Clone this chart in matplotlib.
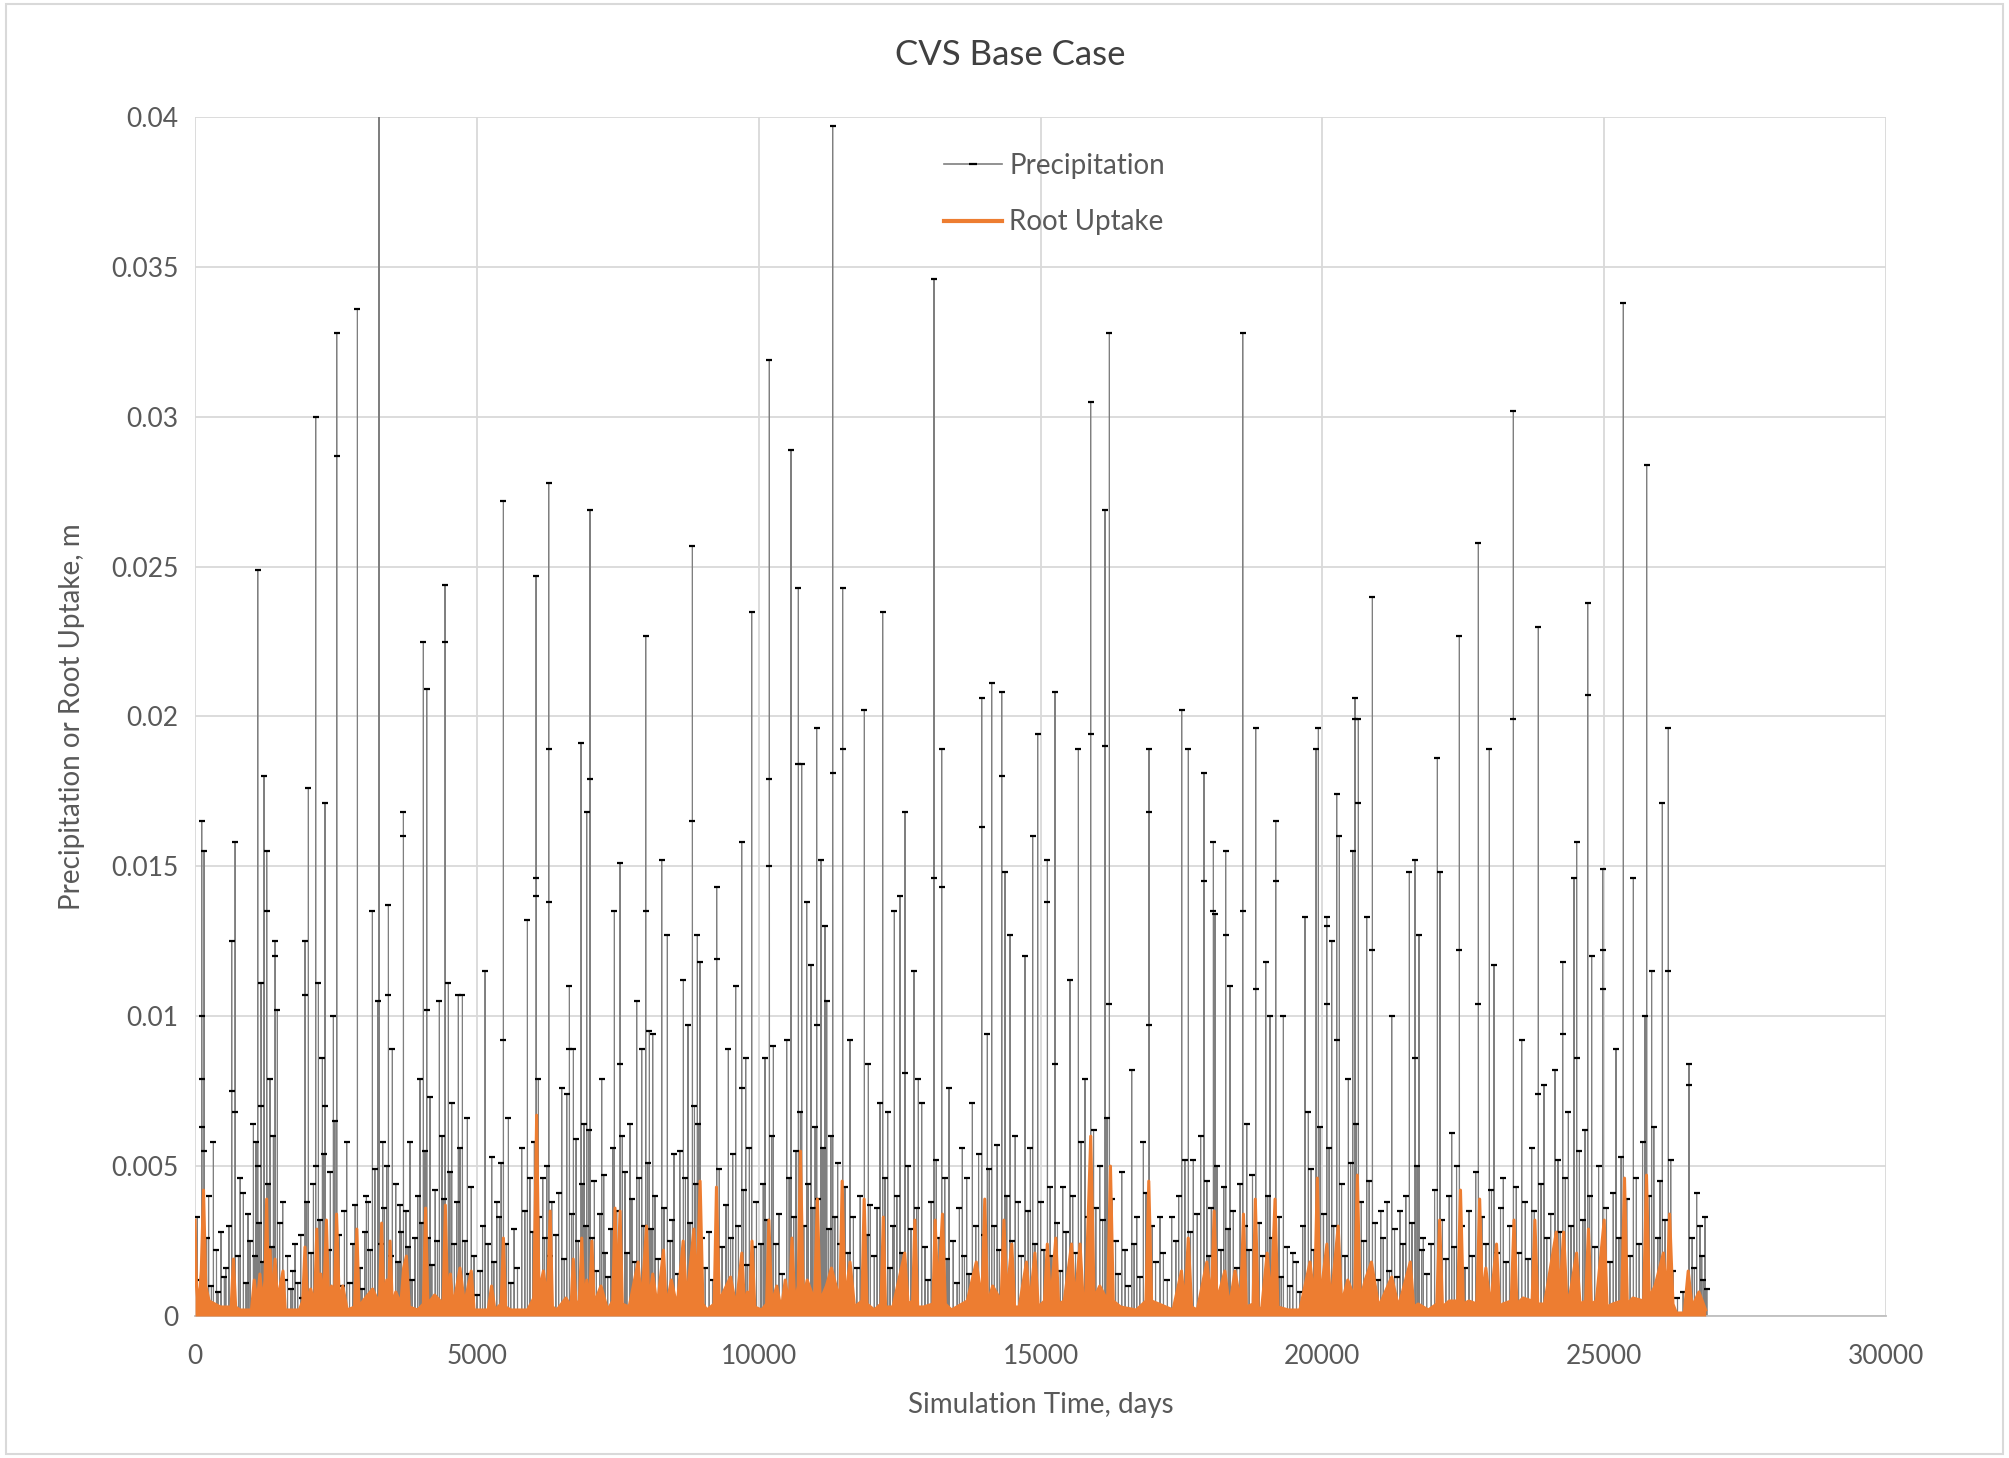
import numpy as np
import matplotlib.pyplot as plt
from matplotlib.lines import Line2D
from matplotlib.ticker import FuncFormatter, MultipleLocator

plt.rcParams['font.family'] = ['Lato', 'DejaVu Sans']

# Precipitation, larger storms (day, mm)
storm_day = [118, 119, 120, 121, 160, 161, 325, 461, 520, 650, 651, 710, 711, 857, 976,
             1035, 1112, 1113, 1171, 1172, 1224, 1271, 1272, 1330, 1419, 1420, 1460, 1555,
             1774, 1874, 1951, 1952, 2010, 2140, 2141, 2188, 2259, 2306, 2307, 2454, 2513,
             2514, 2690, 2880, 2927, 3075, 3146, 3240, 3264, 3329, 3430, 3431, 3500, 3636,
             3696, 3697, 3814, 3991, 4050, 4110, 4111, 4169, 4334, 4435, 4436, 4494, 4553,
             4671,
             4743, 4831, 4900, 5145, 5263, 5352, 5470, 5471, 5559, 5795, 5896, 6050, 6051,
             6052, 6091, 6168, 6274, 6275, 6276, 6328, 6505, 6594, 6641, 6642, 6712, 6848,
             6901, 6948, 7007, 7008, 7084, 7214, 7273, 7439, 7540, 7541, 7628, 7717, 7835,
             7924, 7995, 7996, 8060, 8119, 8279, 8379, 8497, 8663, 8746, 8823, 8824, 8911,
             8958,
             9254, 9255, 9461, 9538, 9591, 9698, 9699, 9769, 9834, 9875, 10112, 10188, 10189,
             10190, 10260, 10496, 10573, 10703, 10704, 10762, 10851, 10928, 11028, 11029,
             11105, 11176, 11206, 11312, 11313, 11489, 11490, 11620, 11874, 11945, 12152,
             12199, 12288, 12406, 12506, 12595, 12596, 12755, 12832, 12891, 13110, 13111,
             13246, 13247, 13376, 13612, 13689, 13790,
             13956, 13957, 14056, 14133, 14311, 14312, 14370, 14459, 14607, 14725, 14860,
             14949, 15121, 15122, 15257, 15258, 15393, 15523, 15671, 15789, 15889, 15890,
             16144, 16145, 16221, 16222, 16440, 16617, 16706, 16824, 16924, 16925, 16926,
             17120, 17326, 17504, 17622, 17710, 17900, 17901, 18066, 18067, 18095, 18284,
             18285, 18361,
             18587, 18588, 18658, 18817, 18818, 18995, 19071, 19172, 19173, 19308, 19474,
             19692, 19751, 19888, 19929, 20077, 20078, 20079, 20165, 20254, 20255, 20301,
             20461, 20538, 20579, 20580, 20638, 20639, 20786, 20887, 20888, 21035, 21230,
             21378, 21543, 21644, 21645, 21714, 21791, 22040, 22087, 22294, 22430, 22431,
             22767, 22768, 22962, 23045,
             23210, 23388, 23389, 23536, 23713, 23831, 23832, 23932, 24127, 24263, 24264,
             24364, 24464, 24511, 24512, 24707, 24708, 24777, 24973, 24974, 24975, 25209,
             25339, 25517, 25724, 25753, 25841, 26031, 26137, 26138, 26504, 26505, 26640,
             26699, 26788]
storm_mm = [16.5, 10.0, 7.9, 6.3, 15.5, 5.5, 5.8, 2.8, 1.3, 12.5, 7.5, 15.8, 6.8, 4.1, 2.5,
            6.4, 24.9, 5.0, 11.1, 7.0, 18.0, 15.5, 13.5, 7.9, 12.5, 12.0, 10.2, 3.8,
            2.4, 2.7, 12.5, 10.7, 17.6, 30.0, 5.0, 11.1, 8.6, 17.1, 7.0, 10.0, 32.8,
            28.7, 5.8, 33.6, 1.6, 3.8, 13.5, 10.5, 42.0, 5.8, 13.7, 10.7, 8.9, 3.7,
            16.8, 16.0, 5.8, 7.9, 22.5, 20.9, 10.2, 7.3, 10.5, 24.4, 22.5, 11.1, 7.1,
            10.7,
            10.7, 6.6, 4.3, 11.5, 5.3, 3.8, 27.2, 9.2, 6.6, 5.6, 13.2, 24.7, 14.6,
            14.0, 7.9, 4.6, 27.8, 18.9, 13.8, 3.8, 7.6, 7.4, 11.0, 8.9, 8.9, 19.1,
            6.4, 16.8, 26.9, 17.9, 4.5, 7.9, 2.1, 13.5, 15.1, 8.4, 4.8, 6.4, 10.5,
            8.9, 22.7, 13.5, 9.5, 9.4, 15.2, 12.7, 5.4, 11.2, 9.7, 25.7, 16.5, 12.7,
            11.8,
            14.3, 11.9, 8.9, 5.4, 11.0, 15.8, 7.6, 8.6, 5.6, 23.5, 8.6, 31.9, 17.9,
            15.0, 9.0, 9.2, 28.9, 24.3, 18.4, 18.4, 13.8, 11.7, 19.6, 9.7,
            15.2, 13.0, 10.5, 39.7, 18.1, 24.3, 18.9, 9.2, 20.2, 8.4, 7.1,
            23.5, 6.8, 13.5, 14.0, 16.8, 8.1, 11.5, 7.9, 7.1, 34.6, 14.6,
            18.9, 14.3, 7.6, 5.6, 4.6, 7.1,
            20.6, 16.3, 9.4, 21.1, 20.8, 18.0, 14.8, 12.7, 3.8, 12.0, 16.0,
            19.4, 15.2, 13.8, 20.8, 8.4, 4.3, 11.2, 18.9, 7.9, 30.5, 19.4,
            26.9, 19.0, 32.8, 10.4, 4.8, 8.2, 3.3, 5.8, 18.9, 16.8, 9.7,
            3.3, 3.3, 20.2, 18.9, 5.2, 18.1, 14.5, 15.8, 13.5, 13.4, 15.5,
            12.7, 11.0,
            32.8, 13.5, 6.4, 19.6, 10.9, 11.8, 10.0, 16.5, 14.5, 10.0, 2.1,
            13.3, 6.8, 18.9, 19.6, 13.3, 13.0, 10.4, 12.5, 17.4, 9.2, 16.0,
            7.9, 15.5, 20.6, 19.9, 19.9, 17.1, 13.3, 24.0, 12.2, 3.5, 10.0,
            3.5, 14.8, 15.2, 8.6, 12.7, 2.6, 18.6, 14.8, 6.1, 22.7, 12.2,
            25.8, 10.4, 18.9, 11.7,
            4.6, 30.2, 19.9, 9.2, 5.6, 23.0, 7.4, 7.7, 8.2, 11.8, 9.4,
            6.8, 14.6, 15.8, 8.6, 23.8, 20.7, 12.0, 14.9, 12.2, 10.9, 8.9,
            33.8, 14.6, 10.0, 28.4, 11.5, 17.1, 19.6, 11.5, 8.4, 7.7, 4.1,
            3.0, 3.3]

# Precipitation, smaller daily events (day, mm)
small_day = [40, 85, 205, 240, 290, 380, 405, 545, 600, 770, 800, 905, 940, 1060, 1080, 1140,
             1200, 1300, 1360, 1390, 1500, 1590, 1640, 1700, 1730, 1820, 1900, 1980,
             2060, 2100, 2215, 2280, 2370, 2400, 2480, 2560, 2600, 2650, 2740, 2800, 2840,
             2960, 3010, 3040, 3110, 3190, 3300, 3360, 3400, 3470, 3560, 3600, 3660, 3740,
             3780, 3850, 3900, 3950,
             4020, 4080, 4140, 4200, 4260, 4300, 4380, 4410, 4520, 4600, 4640, 4700, 4790,
             4860, 4950, 5000, 5060, 5100, 5200, 5300, 5400, 5430, 5520, 5600, 5660, 5720,
             5850, 5940, 5990,
             6020, 6110, 6200, 6240, 6300, 6400, 6450, 6550, 6680, 6760, 6800, 6870, 6930,
             6980, 7050, 7120, 7180, 7250, 7320, 7380, 7410, 7480, 7580, 7660, 7750, 7800,
             7880, 7960,
             8030, 8090, 8160, 8220, 8320, 8430, 8470, 8560, 8600, 8700, 8780, 8860, 8880,
             8930, 9000, 9050, 9120, 9180, 9300, 9350, 9420, 9500, 9640, 9730, 9800, 9920,
             9960,
             10040, 10080, 10150, 10230, 10300, 10360, 10420, 10540, 10620, 10660, 10740,
             10800, 10880, 10960, 11000, 11060, 11140, 11240, 11280, 11350, 11400, 11450,
             11530, 11580, 11680, 11740, 11800, 11920, 11980,
             12050, 12100, 12240, 12330, 12380, 12450, 12540, 12650, 12700, 12800, 12950,
             13000, 13060, 13150, 13200, 13300, 13340, 13450, 13520, 13560, 13650, 13730,
             13850, 13900, 13990,
             14090, 14180, 14230, 14270, 14400, 14500, 14550, 14660, 14780, 14820, 14900,
             15000, 15060, 15170, 15200, 15300, 15350, 15450, 15570, 15620, 15720, 15840,
             15940, 15980,
             16050, 16100, 16180, 16270, 16330, 16380, 16500, 16560, 16660, 16760, 16870,
             16980, 17040, 17180, 17250, 17400, 17450, 17560, 17660, 17780, 17840, 17950,
             17990,
             18030, 18130, 18200, 18250, 18330, 18420, 18480, 18540, 18620, 18700, 18760,
             18880, 18940, 19030, 19110, 19230, 19270, 19380, 19420, 19540, 19600, 19650,
             19800, 19850, 19960,
             20020, 20120, 20200, 20340, 20400, 20500, 20600, 20690, 20730, 20830, 20940,
             20990, 21080, 21150, 21190, 21280, 21330, 21430, 21480, 21590, 21680, 21760,
             21850, 21930, 21990,
             22130, 22190, 22250, 22340, 22380, 22480, 22530, 22600, 22660, 22720, 22830,
             22900, 23000, 23100, 23160, 23260, 23320, 23440, 23480, 23600, 23650, 23760,
             23880, 23980,
             24050, 24180, 24220, 24310, 24410, 24560, 24620, 24660, 24740, 24830, 24900,
             25040, 25100, 25160, 25260, 25300, 25400, 25460, 25570, 25620, 25680, 25800,
             25880, 25950, 25990, 26080, 26180, 26220, 26300, 26400, 26560, 26600, 26730,
             26760, 26820]
small_mm = [3.3, 1.2, 2.6, 4.0, 1.0, 2.2, 0.8, 1.6, 3.0, 2.0, 4.6, 1.1, 3.4, 2.0, 5.8, 3.1,
            1.8, 4.4, 2.3, 6.0, 3.1, 1.2, 2.0, 0.9, 1.5, 1.1, 0.6, 3.8,
            2.1, 4.4, 3.2, 5.4, 2.2, 4.8, 6.5, 2.7, 1.0, 3.5, 1.1, 2.4, 3.7,
            0.9, 2.8, 4.0, 2.2, 4.9, 2.4, 3.6, 5.0, 2.0, 4.4, 1.8, 2.8, 3.5,
            2.3, 1.2, 2.6, 4.0,
            3.1, 5.5, 2.6, 1.7, 4.2, 2.5, 6.0, 3.9, 4.8, 2.4, 3.8, 5.6, 2.5,
            1.4, 2.0, 0.7, 1.5, 3.0, 2.4, 1.8, 3.3, 5.1, 2.4, 1.1, 2.9, 1.6,
            3.5, 4.6, 2.8,
            5.8, 3.3, 2.6, 5.0, 2.0, 2.7, 4.1, 1.9, 3.4, 5.9, 2.5, 4.4, 3.0,
            6.2, 2.6, 1.5, 3.4, 4.7, 1.3, 2.9, 5.6, 3.5, 6.0, 2.1, 3.9, 1.8,
            4.6, 3.0,
            5.1, 2.9, 4.0, 1.9, 3.6, 2.5, 3.2, 1.4, 5.5, 4.6, 3.1, 7.0, 4.4,
            6.4, 2.6, 1.6, 2.8, 1.2, 4.9, 2.3, 3.7, 2.6, 3.0, 4.2, 1.7, 2.3,
            3.8,
            2.4, 4.4, 3.2, 6.0, 2.4, 3.4, 1.4, 4.6, 3.3, 5.5, 6.8,
            3.0, 4.4, 3.6, 6.3, 3.9, 5.6, 2.9, 6.0, 3.3, 5.1, 2.4,
            4.3, 2.1, 3.3, 1.6, 4.0, 2.7, 3.7,
            2.0, 3.6, 4.6, 1.6, 3.0, 4.0, 2.1, 5.0, 2.9, 3.6, 2.3,
            1.2, 3.8, 5.2, 2.6, 4.6, 1.9, 2.5, 1.1, 3.6, 2.0, 1.4,
            3.0, 5.4, 2.7,
            4.9, 3.0, 5.7, 2.2, 4.0, 2.5, 6.0, 2.0, 3.5, 5.6, 2.4,
            3.8, 2.2, 4.3, 2.0, 3.1, 1.5, 2.8, 4.0, 2.1, 5.8, 3.3,
            6.2, 3.6,
            5.0, 3.2, 6.6, 3.9, 2.5, 1.4, 2.2, 1.0, 2.4, 1.3, 4.1,
            3.0, 1.8, 2.1, 1.2, 2.5, 4.0, 5.2, 2.8, 3.4, 6.0, 4.5,
            2.0,
            3.6, 5.0, 2.2, 4.3, 2.9, 3.5, 1.6, 4.4, 3.0, 2.2, 4.7,
            3.1, 2.0, 4.0, 2.6, 3.3, 1.3, 2.3, 1.0, 1.8, 0.8, 3.0,
            4.9, 2.2, 6.3,
            3.4, 5.6, 3.0, 4.4, 2.0, 5.1, 6.4, 3.8, 2.5, 4.5, 3.1,
            1.2, 2.6, 3.8, 1.5, 2.9, 1.3, 2.4, 4.0, 3.1, 5.0, 2.2,
            1.4, 2.4, 4.2,
            3.2, 1.9, 4.0, 2.3, 5.0, 3.0, 1.6, 3.5, 2.0, 4.8, 3.3,
            2.4, 4.2, 2.1, 3.6, 1.8, 3.0, 4.3, 2.1, 3.8, 1.9, 3.5,
            4.4, 2.6,
            3.4, 5.2, 2.8, 4.6, 3.0, 5.5, 3.2, 6.2, 4.0, 2.3, 5.0,
            3.6, 1.8, 4.1, 2.6, 5.3, 3.9, 2.0, 4.6, 2.4, 5.8, 4.0,
            6.3, 2.6, 4.5, 3.2, 5.2, 1.5, 0.6, 0.8, 2.6, 1.6, 2.0,
            1.2, 0.9]

# Root uptake (day, mm): peaks of the orange band and the lows between them
uptake_day = [0, 25, 60, 110, 150, 190, 250, 450, 640, 680, 720, 800, 1000, 1050, 1100,
              1150, 1200, 1240, 1270, 1300, 1330, 1370, 1420, 1460, 1560, 1600, 1850, 1910,
              1950, 2000, 2050, 2120, 2160, 2200, 2230, 2280, 2330, 2370, 2420, 2470, 2510,
              2560, 2620, 2700, 2830, 2870, 2910, 2980, 3150, 3270, 3310, 3350, 3400, 3430,
              3460, 3500, 3560, 3650, 3700, 3750, 3800, 3950, 4050, 4090, 4130, 4250, 4400,
              4440, 4480, 4530, 4580, 4700, 4780, 4900, 4950, 5200, 5260, 5320, 5430, 5470,
              5510, 5600, 5900, 6010, 6060, 6100, 6180, 6250, 6300, 6340, 6420, 6580, 6670,
              6710, 6760, 6820, 6860, 6900, 6950, 7000, 7040, 7080, 7200, 7320, 7410, 7450,
              7490, 7540, 7580, 7700, 7860, 7920, 8010, 8050, 8120, 8200, 8310, 8360, 8450,
              8550, 8660, 8720, 8850, 8900, 8960, 9010, 9080, 9210, 9250, 9300, 9500, 9600,
              9700, 9750, 9800, 9840, 9880, 9930, 10050, 10140, 10180, 10230, 10320, 10400,
              10470, 10540, 10590, 10640, 10700, 10740, 10790, 10860, 10990, 11040, 11090,
              11200, 11290, 11440, 11480, 11530, 11620, 11700, 11830, 11870, 11920, 12050,
              12170, 12210, 12250, 12380, 12590, 12650, 12730, 12770, 12820, 12920, 13090,
              13130, 13180, 13260, 13310, 13420, 13700, 13860, 13960, 14010, 14060, 14150,
              14300, 14350, 14400, 14490, 14540, 14620, 14750, 14810, 14900, 14960, 15070,
              15120, 15180, 15270, 15320, 15420, 15550, 15610, 15700, 15760, 15800, 15890,
              15950, 16050, 16190, 16240, 16290, 16420, 16700, 16870, 16920, 16970, 17100,
              17350, 17500, 17560, 17620, 17680, 17780, 17950, 18030, 18080, 18130, 18270,
              18350, 18450, 18550, 18600, 18650, 18770, 18810, 18860, 18920, 19020, 19090,
              19160, 19210, 19400, 19600, 19780, 19860, 19910, 19960, 20080, 20150, 20280,
              20340, 20450, 20570, 20620, 20670, 20760, 20870, 21000, 21230, 21350, 21560,
              21620, 21700, 21880, 22030, 22080, 22130, 22250, 22400, 22450, 22500, 22600,
              22740, 22790, 22840, 22900, 22980, 23090, 23140, 23200, 23350, 23400, 23450,
              23560, 23720, 23770, 23820, 23940, 24150, 24210, 24280, 24340, 24400, 24510,
              24570, 24670, 24720, 24770, 24860, 25000, 25050, 25150, 25310, 25360, 25410,
              25510, 25700, 25750, 25800, 25900, 26050, 26110, 26160, 26220, 26280, 26420,
              26490, 26560, 26680, 26800]
uptake_mm = [3.2, 1.0, 0.3, 1.5, 4.2, 1.0, 0.5, 0.3, 0.3, 1.9, 0.3, 0.2, 0.2, 1.2, 0.4,
             1.4, 0.4, 1.2, 3.9, 0.8, 2.2, 0.4, 1.9, 0.5, 1.5, 0.2, 0.2, 0.5,
             2.3, 0.3, 0.9, 0.4, 2.9, 0.3, 1.4, 0.4, 3.2, 0.4, 1.0, 0.4, 3.4,
             0.4, 1.0, 0.2, 0.3, 2.9, 0.3, 0.5, 0.9, 0.4, 3.1, 0.4, 1.2, 0.4,
             2.5, 0.3, 0.8, 0.4, 1.6, 2.0, 0.3, 0.2, 0.4, 3.6, 0.4, 0.7, 0.4,
             3.7, 0.5, 1.4, 0.3, 1.6, 0.4, 1.5, 0.2, 0.2, 1.0, 0.2, 0.4, 2.6,
             0.3, 0.2, 0.2, 0.6, 6.7, 0.8, 1.5, 0.5, 3.5, 0.3, 0.2, 0.6, 0.3,
             1.9, 0.4, 0.5, 2.6, 0.4, 1.2, 0.4, 2.5, 0.4, 1.0, 0.2, 0.5, 3.6,
             0.6, 3.5, 0.4, 0.3, 1.8, 0.4, 3.0, 0.4, 1.4, 0.3, 2.2, 0.3, 1.2,
             0.3, 2.5, 0.5, 2.9, 0.5, 4.5, 0.4, 0.2, 0.4, 4.3, 0.5, 1.3, 0.3,
             2.1, 0.3, 0.8, 0.3, 2.5, 0.3, 0.2, 0.4, 3.2, 0.4, 1.0, 0.2,
             1.2, 0.3, 2.6, 0.4, 1.0, 5.5, 0.6, 1.2, 0.5, 3.9, 0.5,
             1.0, 1.6, 0.5, 4.5, 0.5, 1.8, 0.3, 0.5, 3.9, 0.4, 0.2,
             0.4, 3.3, 0.3, 0.3, 2.1, 0.4, 0.5, 3.2, 0.3, 0.3, 0.4,
             3.2, 0.6, 3.4, 0.4, 0.2, 0.5, 1.8, 0.5, 3.9, 0.4, 1.0,
             0.5, 3.2, 0.6, 2.4, 0.3, 0.3, 1.8, 0.4, 2.1, 0.3, 0.5,
             2.4, 0.4, 2.6, 0.4, 0.5, 2.4, 0.4, 2.4, 0.4, 0.6, 6.0,
             0.6, 1.0, 0.5, 5.0, 0.5, 0.3, 0.2, 0.5, 4.5, 0.5, 0.4,
             0.2, 1.5, 0.3, 2.6, 0.3, 0.2, 1.8, 0.5, 3.5, 0.5, 1.5,
             0.3, 1.5, 0.4, 3.4, 0.3, 0.4, 3.9, 0.3, 0.2, 2.1, 0.4,
             3.9, 0.3, 0.2, 0.2, 1.8, 0.5, 4.6, 0.5, 2.4, 0.4, 3.0,
             0.4, 1.2, 0.6, 4.7, 0.5, 1.2, 1.8, 0.3, 1.3, 0.3, 1.8,
             0.3, 0.4, 0.2, 0.4, 3.2, 0.3, 0.5, 0.5, 4.2, 0.4, 0.5,
             0.4, 3.9, 0.5, 1.6, 0.3, 2.4, 0.3, 0.4, 0.5, 3.2, 0.4,
             0.6, 0.5, 3.2, 0.4, 0.4, 2.8, 0.6, 2.8, 0.4, 0.8, 2.1,
             0.4, 0.5, 2.9, 0.4, 0.5, 3.2, 0.3, 0.4, 0.5, 4.6, 0.4,
             0.6, 0.5, 4.7, 0.6, 1.0, 2.1, 0.5, 3.4, 0.4, 0.1, 0.1,
             1.5, 0.3, 0.8, 0.2]

last_day = 26840

# daily precipitation series, zero on dry days
days = np.arange(last_day + 1)
precip = np.zeros(last_day + 1)
precip[small_day] = np.array(small_mm) / 1000.0
precip[storm_day] = np.array(storm_mm) / 1000.0
wet = np.nonzero(precip)[0]

fig = plt.figure(figsize=(20.09, 14.58), dpi=100)
ax = fig.add_axes([0.0971, 0.0974, 0.8417, 0.8224])

ax.plot(days, precip, color='#7f7f7f', lw=0.8, marker='_', markevery=list(wet),
        markersize=5, markeredgewidth=1.6, markeredgecolor='black', zorder=2)
up = np.array(uptake_mm) / 1000.0
ax.fill_between(uptake_day, up, 0, color='#ED7D31', lw=0, zorder=3)
ax.plot(uptake_day, up, color='#ED7D31', lw=2.2, zorder=3)

ax.set_xlim(0, 30000)
ax.set_ylim(0, 0.04)
ax.xaxis.set_major_locator(MultipleLocator(5000))
ax.yaxis.set_major_locator(MultipleLocator(0.005))
ax.yaxis.set_major_formatter(FuncFormatter(lambda v, p: f'{v:g}'))
ax.grid(True, color='#d9d9d9', lw=1.3)
ax.set_axisbelow(True)
for s in ['top', 'right', 'left']:
    ax.spines[s].set_visible(False)
ax.spines['bottom'].set_color('#bfbfbf')
ax.spines['bottom'].set_linewidth(1.3)
ax.tick_params(length=0, labelsize=19, labelcolor='#595959')
ax.tick_params(axis='x', pad=20)
ax.tick_params(axis='y', pad=12)

fig.text(0.503, 0.962, 'CVS Base Case', fontsize=25, color='#404040', ha='center', va='center')
ax.set_xlabel('Simulation Time, days', fontsize=20, color='#595959', labelpad=17)
ax.set_ylabel('Precipitation or Root Uptake, m', fontsize=20, color='#595959', labelpad=19)

handles = [Line2D([], [], color='#7f7f7f', lw=1.2, marker='_', markersize=6,
                  markeredgewidth=1.6, markeredgecolor='black'),
           Line2D([], [], color='#ED7D31', lw=3)]
ax.legend(handles, ['Precipitation', 'Root Uptake'], loc='upper left',
          bbox_to_anchor=(0.428, 0.991), frameon=False, fontsize=20,
          labelcolor='#595959', handlelength=2.1, handletextpad=0.25, labelspacing=1.1)

fig.patches.append(plt.Rectangle((0.003, 0.003), 0.994, 0.994, transform=fig.transFigure,
                                 fill=False, edgecolor='#d9d9d9', lw=1.5))

fig.savefig('out.png', dpi=100)
